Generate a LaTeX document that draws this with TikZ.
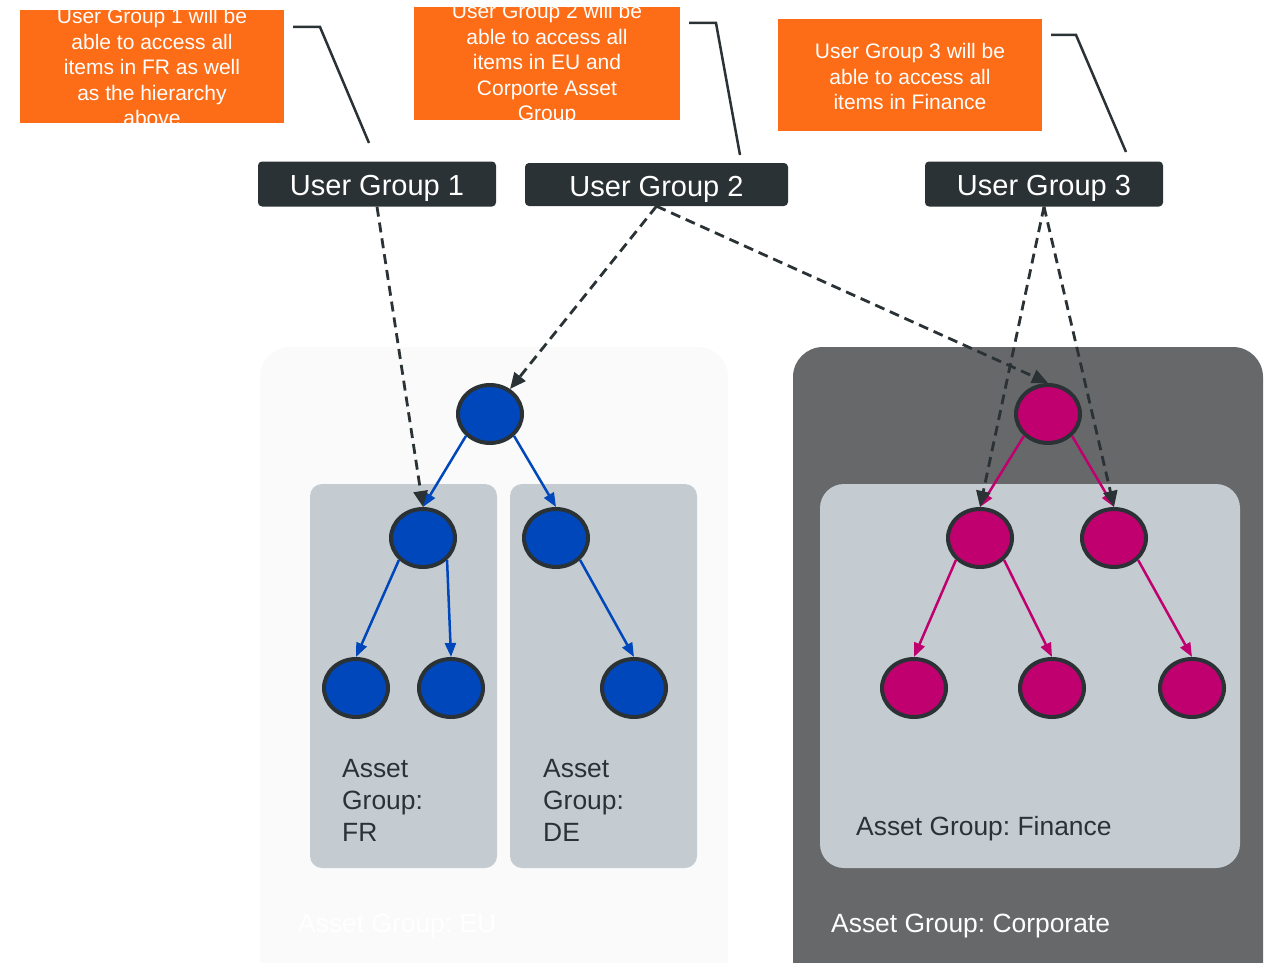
\documentclass[tikz,border=0pt]{standalone}
\usepackage{fontspec}
\setmainfont{Liberation Sans}
\frenchspacing
\usetikzlibrary{arrows.meta,shapes.geometric}
\definecolor{orng}{HTML}{FD6C16}
\definecolor{darkc}{HTML}{2B3235}
\definecolor{euc}{HTML}{FAFAFA}
\definecolor{corpc}{HTML}{67686A}
\definecolor{subc}{HTML}{C5CCD1}
\definecolor{bluec}{HTML}{0047BB}
\definecolor{magc}{HTML}{C0006F}
\tikzset{
  ugbox/.style={fill=darkc, rounded corners=4pt, text=white, minimum width=238pt, minimum height=45pt, inner sep=0pt, text height=26pt, text depth=3pt, font=\fontsize{29}{34}\selectfont},
  obox/.style={fill=orng, minimum width=264pt, minimum height=113pt, inner sep=0pt},
  otext/.style={text=white, align=center, inner sep=0pt, font=\fontsize{21}{25.5}\selectfont},
  bnode/.style={ellipse, draw=darkc, line width=4pt, fill=bluec, minimum width=64pt, minimum height=58pt, inner sep=0pt},
  mnode/.style={ellipse, draw=darkc, line width=4pt, fill=magc, minimum width=64pt, minimum height=58pt, inner sep=0pt},
  barrow/.style={draw=bluec, line width=2.5pt, -{Triangle[length=14pt,width=11pt]}},
  marrow/.style={draw=magc, line width=2.5pt, -{Triangle[length=14pt,width=11pt]}},
  darrow/.style={draw=darkc, line width=2.8pt, dash pattern=on 10pt off 6pt, -{Triangle[length=16pt,width=14pt]}},
  callout/.style={draw=darkc, line width=2.5pt},
  aglabel/.style={inner sep=0pt, align=left, font=\fontsize{26.4}{32}\selectfont, text=darkc},
}
\begin{document}
\begin{tikzpicture}[x=1pt,y=-1pt]
\clip (0,0) rectangle (1268,963);
\fill[white] (0,0) rectangle (1268,963);
% containers
\fill[euc, rounded corners=30pt] (260,347) rectangle (728,1010);
\fill[corpc, rounded corners=30pt] (793,347) rectangle (1263,1010);
\fill[subc, rounded corners=12pt] (310,484) rectangle (497,868);
\fill[subc, rounded corners=12pt] (510,484) rectangle (697,868);
\fill[subc, rounded corners=24pt] (820,484) rectangle (1240,868);
% labels
\node[aglabel, anchor=west] (lfr) at (342,800) {Asset\\Group:\\FR};
\node[aglabel, anchor=west] (lde) at (543,800) {Asset\\Group:\\DE};
\node[aglabel, anchor=west] (lfin) at (856,829) {Asset Group: Finance};
\node[aglabel, anchor=west, text=white] (lcorp) at (831,926.5) {Asset Group: Corporate};
\node[aglabel, anchor=west, text=white] (leu) at (298,926.5) {Asset Group: EU};
% orange boxes
\node[obox] (o1) at (152,66.5) {};
\node[obox, minimum width=266pt] (o2) at (547,63.5) {};
\node[obox, minimum height=112pt] (o3) at (910,75) {};
\begin{scope}
\clip (20,10) rectangle (284,123);
\node[otext] (t1) at (152,67) {User Group 1 will be\\able to access all\\items in FR as well\\as the hierarchy\\above};
\end{scope}
\begin{scope}
\clip (414,7) rectangle (680,120);
\node[otext] (t2) at (547,64.5) {User Group 2 will be\\able to access all\\items in EU and\\Corporte Asset\\Group};
\end{scope}
\node[otext] (t3) at (910,76.5) {User Group 3 will be\\able to access all\\items in Finance};
% user groups
\node[ugbox] (ug1) at (377,184) {User Group 1};
\node[ugbox, minimum width=263pt, minimum height=43pt] (ug2) at (656.5,184.5) {User Group 2};
\node[ugbox] (ug3) at (1044,184) {User Group 3};
% callouts
\coordinate (c1a) at (293,27); \coordinate (c1b) at (320,27); \coordinate (c1c) at (369,143);
\coordinate (c2a) at (689,23); \coordinate (c2b) at (716,23); \coordinate (c2c) at (740,155);
\coordinate (c3a) at (1051,35); \coordinate (c3b) at (1076,35); \coordinate (c3c) at (1126,152);
\draw[callout] (c1a) -- (c1b) -- (c1c);
\draw[callout] (c2a) -- (c2b) -- (c2c);
\draw[callout] (c3a) -- (c3b) -- (c3c);
% blue tree
\node[bnode] (root) at (490,414) {};
\node[bnode] (fr) at (423,538) {};
\node[bnode] (de) at (556,538) {};
\node[bnode] (fr1) at (356,688) {};
\node[bnode] (fr2) at (451,688) {};
\node[bnode] (de1) at (634,688) {};
% magenta tree
\node[mnode] (mroot) at (1048,414) {};
\node[mnode] (m1) at (980,538) {};
\node[mnode] (m2) at (1114,538) {};
\node[mnode] (ml1) at (914,688) {};
\node[mnode] (ml2) at (1052,688) {};
\node[mnode] (ml3) at (1192,688) {};
% tree arrows
\draw[barrow] (root.south west) -- (fr.north);
\draw[barrow] (root.south east) -- (de.north);
\draw[barrow] (fr.south west) -- (fr1.north);
\draw[barrow] (fr.south east) -- (fr2.north);
\draw[barrow] (de.south east) -- (de1.north);
\draw[marrow] (mroot.south west) -- (m1.north);
\draw[marrow] (mroot.south east) -- (m2.north);
\draw[marrow] (m1.south west) -- (ml1.north);
\draw[marrow] (m1.south east) -- (ml2.north);
\draw[marrow] (m2.south east) -- (ml3.north);
% dashed access arrows
\draw[darrow] (ug1.south) -- (fr.north);
\draw[darrow] (ug2.south) -- (root);
\draw[darrow] (ug2.south) -- (mroot.north);
\draw[darrow] (ug3.south) -- (m1.north);
\draw[darrow] (ug3.south) -- (m2.north);
\end{tikzpicture}
\end{document}
